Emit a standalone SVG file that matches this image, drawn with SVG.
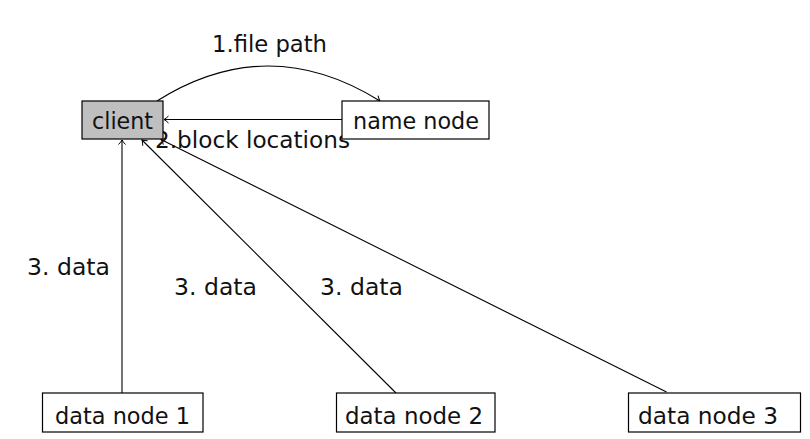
<svg xmlns="http://www.w3.org/2000/svg" width="810" height="439" viewBox="0 0 810 439">
<defs>
<style>
.box{stroke:#000;stroke-width:1.2;fill:#fff}
.gray{fill:#bfbfbf}
.t{font-family:"DejaVu Sans","Liberation Sans",sans-serif;font-size:23.5px;fill:#111}
.m{text-anchor:middle}
.c{fill:none;stroke:#000;stroke-width:1.1}
</style>
<marker id="ah" markerUnits="userSpaceOnUse" markerWidth="12" markerHeight="12" refX="6" refY="6" orient="auto" overflow="visible">
<path d="M1.5,2.5 Q4,5 6,6 Q4,7 1.5,9.5" fill="none" stroke="#000" stroke-width="1"/>
</marker>
</defs>
<rect width="810" height="439" fill="#fff"/>
<g id="connectors">
<path class="c" d="M157,101 Q268,31 380,101" marker-end="url(#ah)"/>
<path class="c" d="M342,119.5 L164,119.5" marker-end="url(#ah)"/>
<path class="c" d="M122,393 L122,140" marker-end="url(#ah)"/>
<path class="c" d="M396,393 L142,140" marker-end="url(#ah)"/>
<path class="c" d="M666.5,392 L161,139.5" marker-end="url(#ah)"/>
<text class="t" x="212" y="52" textLength="115" lengthAdjust="spacingAndGlyphs">1.file path</text>
<text class="t" x="155" y="148" textLength="195" lengthAdjust="spacingAndGlyphs">2.block locations</text>
<text class="t" x="27" y="275" textLength="83" lengthAdjust="spacing">3. data</text>
<text class="t" x="174" y="295" textLength="83" lengthAdjust="spacing">3. data</text>
<text class="t" x="320" y="295" textLength="83" lengthAdjust="spacing">3. data</text>
</g>
<g id="client">
<rect class="box gray" x="82" y="101" width="81" height="38"/>
<text class="t" x="92" y="129" textLength="61" lengthAdjust="spacingAndGlyphs">client</text>
</g>
<g id="namenode">
<rect class="box" x="342" y="101" width="147" height="38"/>
<text class="t" x="353" y="129" textLength="126" lengthAdjust="spacingAndGlyphs">name node</text>
</g>
<g id="datanode1">
<rect class="box" x="42.5" y="393" width="160.5" height="39"/>
<text class="t" x="55" y="424" textLength="135" lengthAdjust="spacingAndGlyphs">data node 1</text>
</g>
<g id="datanode2">
<rect class="box" x="336.5" y="393" width="158.5" height="39"/>
<text class="t" x="345" y="424" textLength="138" lengthAdjust="spacingAndGlyphs">data node 2</text>
</g>
<g id="datanode3">
<rect class="box" x="628.5" y="393" width="172" height="39"/>
<text class="t" x="638" y="424" textLength="140" lengthAdjust="spacingAndGlyphs">data node 3</text>
</g>
</svg>
